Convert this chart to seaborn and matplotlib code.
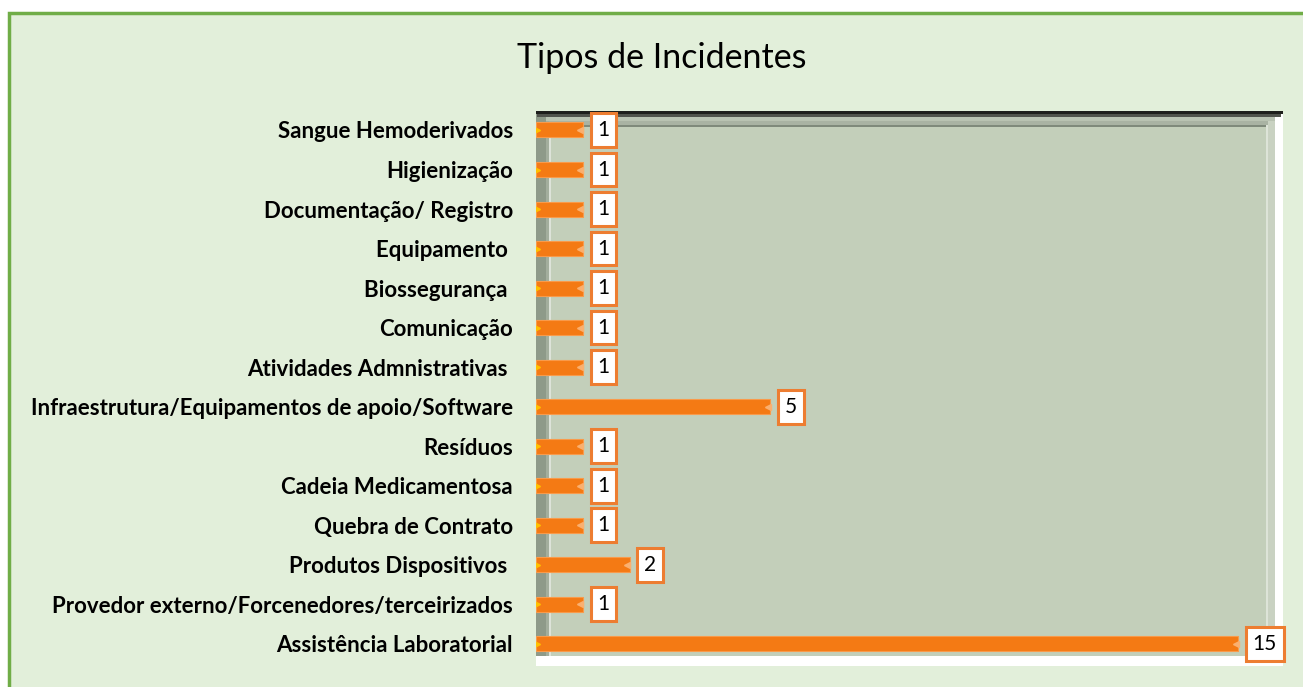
import matplotlib
matplotlib.use("Agg")
import matplotlib.pyplot as plt
import seaborn as sns
from matplotlib.patches import Rectangle
from matplotlib.lines import Line2D

# data, top to bottom as in the chart
categories = [
    "Sangue Hemoderivados",
    "Higienização",
    "Documentação/ Registro",
    "Equipamento ",
    "Biossegurança ",
    "Comunicação",
    "Atividades Admnistrativas ",
    "Infraestrutura/Equipamentos de apoio/Software",
    "Resíduos",
    "Cadeia Medicamentosa",
    "Quebra de Contrato",
    "Produtos Dispositivos ",
    "Provedor externo/Forcenedores/terceirizados",
    "Assistência Laboratorial",
]
counts = [1, 1, 1, 1, 1, 1, 1, 5, 1, 1, 1, 2, 1, 15]

W, H = 1303, 687
sns.set_style("white")
plt.rcParams['font.family'] = ['Lato', 'DejaVu Sans']

fig = plt.figure(figsize=(W / 100, H / 100), dpi=100)
fig.patch.set_facecolor("white")

# green background, border only on the left and top
fig.add_artist(Rectangle((9 / W, 0), 1, 1 - 13 / H, transform=fig.transFigure,
                         facecolor="#E2EFDA", linewidth=0, zorder=0))
fig.add_artist(Line2D([9 / W, 9 / W, 1], [0, 1 - 13 / H, 1 - 13 / H],
                      transform=fig.transFigure, color="#70AD47", lw=2.5,
                      solid_joinstyle="miter", zorder=0.1))

ax = fig.add_axes([536 / W, (H - 666) / H, (1283 - 536) / W, (666 - 111) / H])
ax.set_facecolor("#C3CFBA")

sns.barplot(x=counts, y=categories, orient="h", color="#F47A14",
            saturation=1, width=0.38, ax=ax, zorder=3,
            edgecolor="#F99A4A", linewidth=0.8)

# arrow-ish bar ends
ypos = list(range(len(counts)))
ax.plot([0.02] * len(counts), ypos, ls="none", marker=">", ms=5,
        color="#FFC000", zorder=4)
ax.plot([c - 0.05 for c in counts], ypos, ls="none", marker="<", ms=5,
        color="#FAB070", zorder=4)

ax.set_xlim(0, 747 / 46.8)
ax.set_ylim(len(categories) - 0.44, -0.48)


def frame_rect(x0, y0, x1, y1, c):
    # rectangle in reference pixel coordinates
    ax.add_patch(Rectangle((x0 / W, 1 - y1 / H), (x1 - x0) / W, (y1 - y0) / H,
                           transform=fig.transFigure, facecolor=c,
                           linewidth=0, zorder=1))


# 3d-ish frame of the plot area
frame_rect(536, 111, 546, 666, "#8E9A89")
frame_rect(546, 117, 549, 656, "#A3AE9D")
frame_rect(549, 125, 551, 656, "#DDE3D9")
frame_rect(1266, 121, 1268, 656, "#DDE4D8")
frame_rect(1268, 117, 1275, 656, "#C9D2C2")
frame_rect(1275, 111, 1283, 666, "white")
frame_rect(536, 656, 1283, 666, "white")
frame_rect(546, 117, 1275, 121, "#B9C3B2")
frame_rect(549, 121, 1268, 125, "#A9B3A3")
frame_rect(551, 125, 1266, 126.5, "#7F8A7B")
frame_rect(536, 111, 1283, 114, "#1E1F1C")
frame_rect(537, 114, 1281, 117, "#50534C")
for s in ax.spines.values():
    s.set_visible(False)

# value boxes
for i, v in enumerate(counts):
    ax.annotate(str(v), (v, i), xytext=(10.5, 0), textcoords="offset points",
                ha="left", va="center", fontsize=15, color="black",
                bbox=dict(boxstyle="square,pad=0.33", facecolor="white",
                          edgecolor="#ED7D31", linewidth=2.2), zorder=5)

ax.set_xticks([])
ax.tick_params(axis="y", length=0, pad=16.5)
for lbl in ax.get_yticklabels():
    lbl.set_fontweight("bold")
    lbl.set_fontsize(16)
    lbl.set_color("black")
ax.set_xlabel("")
ax.set_ylabel("")

fig.text(662 / W, 1 - 58 / H, "Tipos de Incidentes", ha="center",
         va="center", fontsize=24.5, color="black")

fig.savefig("out.png", dpi=100)
